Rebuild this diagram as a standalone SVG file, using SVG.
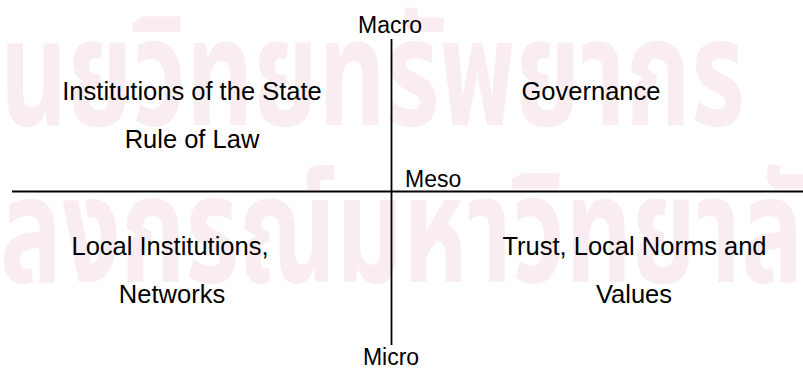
<svg xmlns="http://www.w3.org/2000/svg" width="803" height="368" viewBox="0 0 803 368">
<style>
.wm{font-family:"Noto Sans Thai","Noto Sans","DejaVu Sans",sans-serif;font-size:150px;font-weight:bold;fill:#f9edf1}
.t{font-family:"Liberation Sans",Arial,sans-serif;font-size:25.5px;fill:#000}
.s{font-size:23px}
.c{text-anchor:middle}
.ax{stroke:#000;stroke-width:1.8;fill:none}
</style>
<rect width="803" height="368" fill="#fff"/>
<g id="watermark">
<text class="wm" x="0" y="125" textLength="745" lengthAdjust="spacingAndGlyphs">นยวิทยทรัพยากร</text>
<text class="wm" x="0" y="282" textLength="803" lengthAdjust="spacingAndGlyphs">ลงกรณ์มหาวิทยาลั</text>
</g>
<g id="connectors">
<line class="ax" x1="391.5" y1="39" x2="391.5" y2="345"/>
<line class="ax" x1="12" y1="191.5" x2="803" y2="191.5"/>
</g>
<g id="macro"><text class="t s c" x="390" y="33">Macro</text></g>
<g id="meso"><text class="t s" x="405" y="187">Meso</text></g>
<g id="micro"><text class="t s c" x="391" y="365">Micro</text></g>
<g id="q1"><text class="t c" x="192" y="100">Institutions of the State</text><text class="t c" x="192" y="148">Rule of Law</text></g>
<g id="q2"><text class="t c" x="591" y="100">Governance</text></g>
<g id="q3"><text class="t c" x="170" y="255">Local Institutions,</text><text class="t c" x="172" y="303">Networks</text></g>
<g id="q4"><text class="t c" x="634.5" y="255">Trust, Local Norms and</text><text class="t c" x="634" y="303">Values</text></g>
</svg>
